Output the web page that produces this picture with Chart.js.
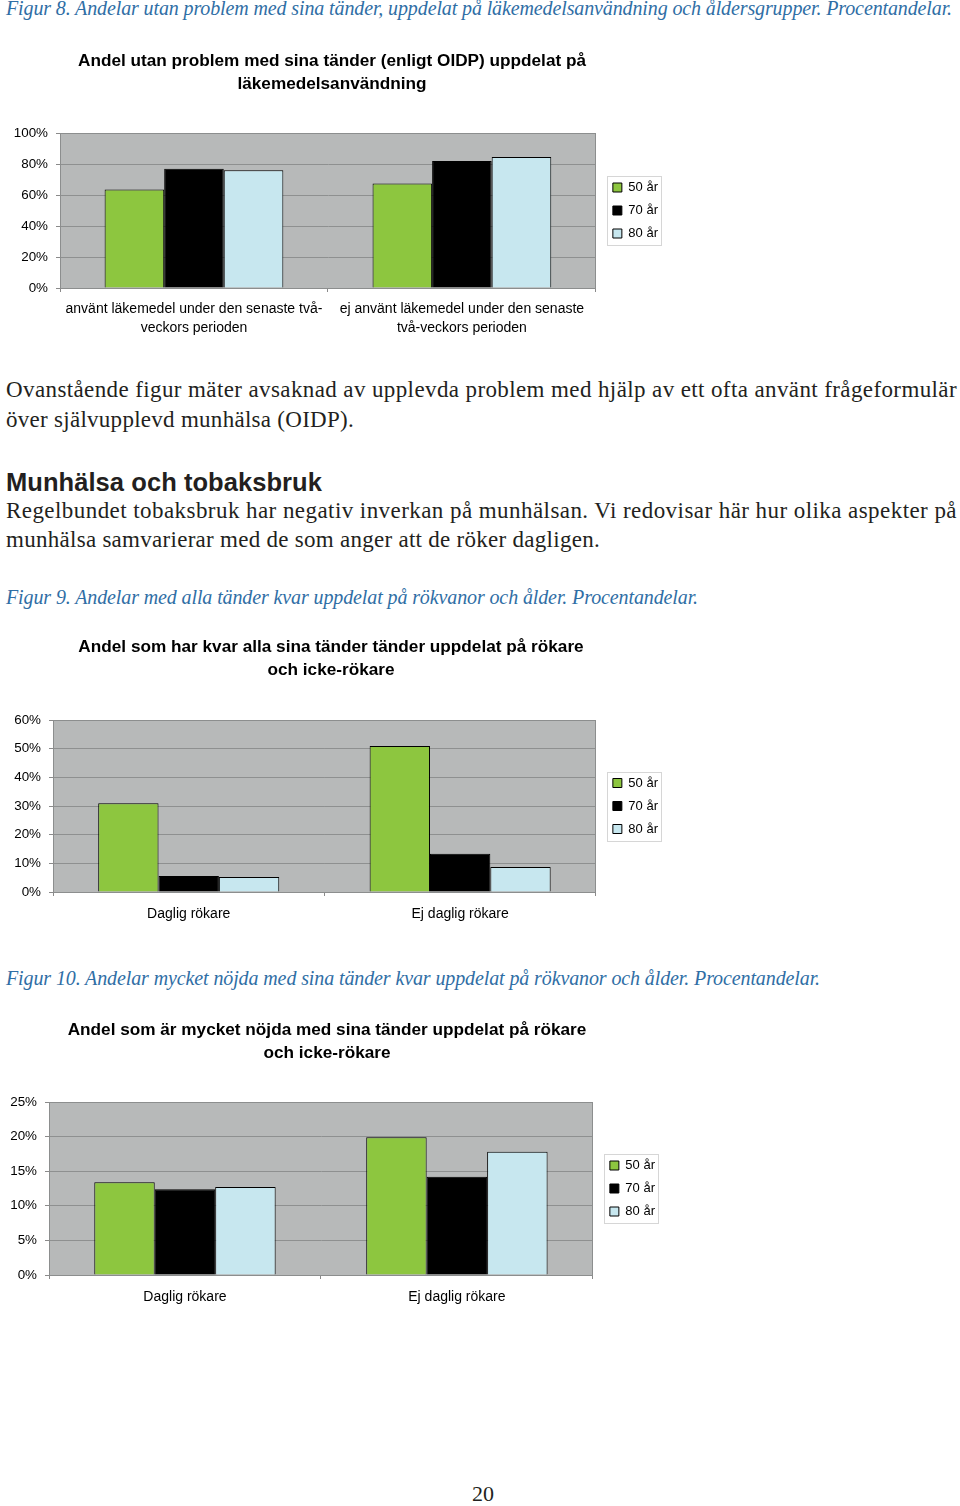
<!DOCTYPE html>
<html lang="sv">
<head>
<meta charset="utf-8">
<title>Figur 8-10</title>
<script src="https://cdn.jsdelivr.net/npm/chart.js@4.4.1/dist/chart.umd.min.js"></script>
<style>
html,body{margin:0;padding:0;background:#fff}
body{position:relative;width:960px;height:1506px;overflow:hidden}
.tx{position:absolute;left:6px;white-space:nowrap;color:#231f20;font-family:'Liberation Serif','Times New Roman',serif;font-size:23px;line-height:26px}
.cap{font-style:italic;color:#2f6ea5;font-size:20px;line-height:24px}
.h2{font-family:'Liberation Sans',Arial,sans-serif;font-weight:bold;font-size:25.5px;line-height:30px}
canvas{position:absolute}
</style>
</head>
<body>
<div class="tx cap" style="top:-4px" data-w="946">Figur 8. Andelar utan problem med sina tänder, uppdelat på läkemedelsanvändning och åldersgrupper. Procentandelar.</div>
<canvas id="c8" width="672" height="290" style="left:-4px;top:50px"></canvas>

<div class="tx" style="top:377px" data-w="951">Ovanstående figur mäter avsaknad av upplevda problem med hjälp av ett ofta använt frågeformulär</div>
<div class="tx" style="top:407px" data-w="348">över självupplevd munhälsa (OIDP).</div>
<div class="tx h2" style="top:467px" data-w="316">Munhälsa och tobaksbruk</div>
<div class="tx" style="top:498px" data-w="951">Regelbundet tobaksbruk har negativ inverkan på munhälsan. Vi redovisar här hur olika aspekter på</div>
<div class="tx" style="top:527px" data-w="594">munhälsa samvarierar med de som anger att de röker dagligen.</div>

<div class="tx cap" style="top:585px" data-w="692">Figur 9. Andelar med alla tänder kvar uppdelat på rökvanor och ålder. Procentandelar.</div>
<canvas id="c9" width="674" height="296" style="left:-6px;top:636px"></canvas>

<div class="tx cap" style="top:966px" data-w="814">Figur 10. Andelar mycket nöjda med sina tänder kvar uppdelat på rökvanor och ålder. Procentandelar.</div>
<canvas id="c10" width="676" height="296" style="left:-11px;top:1019px"></canvas>

<div class="tx" style="left:472px;top:1481px;font-size:22px" data-w="22">20</div>

<script>
// serier / åldersgrupper
const ages=['50 år','70 år','80 år'];
const ageColors=['#8dc63f','#000000','#c7e7ef'];

// Figur 8
const title8=['Andel utan problem med sina tänder (enligt OIDP) uppdelat på','läkemedelsanvändning'];
const cats8=[['använt läkemedel under den senaste två-','veckors perioden'],['ej använt läkemedel under den senaste','två-veckors perioden']];
const f8_50=[63.5,67.5];
const f8_70=[77,82];
const f8_80=[76,84.5];
const ticks8=[0,20,40,60,80,100];

// Figur 9
const title9=['Andel som har kvar alla sina tänder tänder uppdelat på rökare','och icke-rökare'];
const cats9=['Daglig rökare','Ej daglig rökare'];
const f9_50=[31,50.9];
const f9_70=[5.6,13.3];
const f9_80=[5.2,8.7];
const ticks9=[0,10,20,30,40,50,60];

// Figur 10
const title10=['Andel som är mycket nöjda med sina tänder uppdelat på rökare','och icke-rökare'];
const cats10=['Daglig rökare','Ej daglig rökare'];
const f10_50=[13.4,19.9];
const f10_70=[12.4,14.2];
const f10_80=[12.7,17.8];
const ticks10=[0,5,10,15,20,25];

// fit text lines to the widths in the original layout
document.querySelectorAll('[data-w]').forEach(el=>{
  const w=+el.dataset.w, nat=el.getBoundingClientRect().width;
  el.style.letterSpacing=((w-nat)/el.textContent.length)+'px';
});

Chart.defaults.font.family="'Liberation Sans', Arial, sans-serif";

const plotBox={
  id:'plotBox',
  beforeDraw(chart){
    const {ctx,chartArea:a}=chart;
    ctx.save();
    ctx.fillStyle='#b7b9b9';
    ctx.fillRect(a.left,a.top,a.width,a.height);
    ctx.restore();
  },
  beforeDatasetsDraw(chart){
    const {ctx,chartArea:a}=chart;
    ctx.save();
    ctx.strokeStyle='#8c8e8e';ctx.lineWidth=1;
    ctx.strokeRect(Math.round(a.left)+.5,Math.round(a.top)+.5,Math.round(a.width)-1,Math.round(a.height));
    ctx.restore();
  },
  afterDraw(chart){
    const hb=chart.legend&&chart.legend.legendHitBoxes; if(!hb||!hb.length) return;
    const ctx=chart.ctx;
    const l=Math.min(...hb.map(h=>h.left))-6, r=Math.max(...hb.map(h=>h.left+h.width))+3;
    const t=hb[0].top-5, b=hb[hb.length-1].top+hb[hb.length-1].height+5;
    ctx.save();
    ctx.strokeStyle='#d6d6d6';ctx.lineWidth=1;
    ctx.strokeRect(Math.round(l)+.5,Math.round(t)+.5,Math.round(r-l),Math.round(b-t));
    ctx.restore();
  }
};

function drawChart(id,title,cats,series,ticks,o){
  const step=ticks[1]-ticks[0];
  return new Chart(document.getElementById(id),{
    type:'bar',
    data:{labels:cats,datasets:series.map((d,i)=>({
      label:ages[i],data:d,backgroundColor:ageColors[i],borderColor:'#000',borderWidth:1,
      yAxisID:'y',categoryPercentage:0.667,barPercentage:1
    }))},
    options:{
      responsive:false,animation:false,
      layout:{padding:0},
      plugins:{
        title:{display:true,text:title,color:'#000',font:{size:17.2,weight:'bold',lineHeight:'23px'},padding:{top:0,bottom:o.tpad}},
        legend:{position:'right',align:'center',fullSize:false,labels:{boxWidth:9,boxHeight:9,padding:10,color:'#000',font:{size:13}}},
        tooltip:{enabled:false}
      },
      scales:{
        x:{
          ticks:{padding:o.xpad,color:'#000',font:{size:14,lineHeight:'19px'},maxRotation:0,minRotation:0,autoSkip:false},
          grid:{offset:true,drawOnChartArea:false,tickLength:4,color:'#8a8a8a'},
          border:{color:'#808080'},
          afterFit:s=>{s.height=o.xh;}
        },
        y:{
          min:ticks[0],max:ticks[ticks.length-1],
          ticks:{stepSize:step,padding:8,color:'#000',font:{size:13.4},callback:v=>v+'%'},
          grid:{color:'#8e9090',tickLength:4,tickColor:'#8a8a8a'},
          border:{color:'#808080'},
          afterFit:s=>{s.width=o.yw;}
        },
        gap:{
          type:'linear',axis:'y',position:'right',display:true,
          grid:{display:false},ticks:{display:false},border:{display:false},
          afterFit:s=>{s.width=7;}
        }
      }
    },
    plugins:[plotBox]
  });
}

drawChart('c8',title8,cats8,[f8_50,f8_70,f8_80],ticks8,{tpad:37,xh:52,xpad:8,yw:64});
drawChart('c9',title9,cats9,[f9_50,f9_70,f9_80],ticks9,{tpad:38,xh:40,xpad:9,yw:59});
drawChart('c10',title10,cats10,[f10_50,f10_70,f10_80],ticks10,{tpad:37,xh:40,xpad:9,yw:60});
</script>
</body>
</html>
